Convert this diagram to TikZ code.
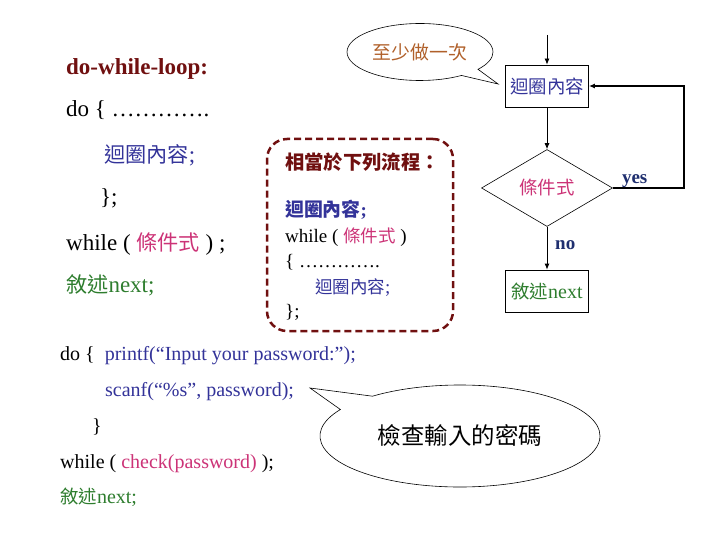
\documentclass[tikz,border=0pt]{standalone}
\usepackage{fontspec}
\setmainfont{Liberation Serif}
\newfontfamily\cjk[Scale=0.92]{Noto Sans CJK TC}
\usetikzlibrary{arrows.meta, positioning, calc, shapes.geometric, shapes.callouts}
\definecolor{LoopRed}{HTML}{701010}
\definecolor{BodyBlue}{HTML}{333399}
\definecolor{CondPink}{HTML}{CC3377}
\definecolor{NextGreen}{HTML}{2E7D2E}
\definecolor{LabelNavy}{HTML}{1F2F6F}
\definecolor{NoteBrown}{HTML}{B0602A}

\begin{document}
\begin{tikzpicture}[x=1pt, y=-1pt, >={Latex[length=6pt,width=5pt]},
  codebig/.style={anchor=base west, inner sep=0pt, font=\fontsize{23}{27}\selectfont},
  codemid/.style={anchor=base west, inner sep=0pt, font=\fontsize{19}{23}\selectfont},
  codelow/.style={anchor=base west, inner sep=0pt, font=\fontsize{20}{24}\selectfont},
  flowbox/.style={draw, line width=0.8pt, minimum width=83pt, minimum height=42pt,
    inner sep=0pt, font=\fontsize{20}{24}\selectfont},
  flowlabel/.style={anchor=base west, inner sep=0pt, text=LabelNavy,
    font=\fontsize{19}{22}\selectfont\bfseries},
  note/.style={ellipse callout, draw, line width=0.6pt, inner sep=0pt}]
  \useasboundingbox (0,0) rectangle (720,540);

  % left: do-while syntax
  \node[codebig] (title) at (66,75) {\textcolor{LoopRed}{\textbf{do-while-loop:}}};
  \node[codebig] (doline) at (66,117) {do \{ ………….};
  \node[codebig] (bodyline) at (104,163) {\color{BodyBlue}{\cjk 迴圈內容};};
  \node[codebig] (closeline) at (100,205) {\};};
  \node[codebig] (whileline) at (66,251) {while ( {\color{CondPink}\cjk 條件式} ) ;};
  \node[codebig] (nextline) at (66,292) {\color{NextGreen}{\cjk 敘述}next;};

  % equivalent flow, dashed frame
  \node[draw=LoopRed, line width=2.5pt, dash pattern=on 7pt off 4pt, rounded corners=20pt,
    minimum width=186pt, minimum height=192pt] (equivbox) at (360,235) {};
  \node[codemid] (equivtitle) at (285,170) {\color{LoopRed}\fontsize{21}{24}\selectfont\cjk\bfseries 相當於下列流程：};
  \node[codemid] (equivbody) at (285,217) {\color{BodyBlue}{\fontsize{20.5}{24}\selectfont\cjk\bfseries 迴圈內容}\textbf{;}};
  \node[codemid] (equivwhile) at (285,243) {while ( {\color{CondPink}\cjk 條件式} )};
  \node[codemid] (equivopen) at (285,267) {\{ ………….};
  \node[codemid] (equivinner) at (315,293) {\color{BodyBlue}{\cjk 迴圈內容};};
  \node[codemid] (equivclose) at (285,317) {\};};

  % flowchart
  \coordinate (entry) at (547,35);
  \node[flowbox] (loopbox) at (547,86) {\color{BodyBlue}\cjk 迴圈內容};
  \node[diamond, draw, line width=0.6pt, aspect=1.7, minimum width=131pt, minimum height=77pt,
    inner sep=0pt, font=\fontsize{20}{24}\selectfont] (cond) at (547,188) {\color{CondPink}\cjk 條件式};
  \node[flowbox] (nextbox) at (547,291) {\color{NextGreen}{\cjk 敘述}next};
  \draw[->, line width=0.8pt] (entry) -- (loopbox);
  \draw[->, line width=0.8pt] (loopbox) -- (cond);
  \draw[->, line width=0.8pt] (cond) -- (nextbox);
  \draw[->, line width=2.5pt] (cond.east) -- ++(71,0) |- (loopbox.east);
  \node[flowlabel] (yeslbl) at ($(cond.east)+(9,-4)$) {yes};
  \node[flowlabel] (nolbl) at ($(cond.south)+(8,23)$) {no};

  % callouts
  \node[note, minimum width=146pt, minimum height=57pt, callout pointer arc=18,
    callout absolute pointer={($(loopbox.west)+(-7,-2)$)},
    font=\fontsize{20.5}{24}\selectfont] (oncenote) at (420,52) {\color{NoteBrown}\cjk 至少做一次};

  % bottom: password example
  \node[codelow] (doprint) at (60,360) {do \{\ \ \textcolor{BodyBlue}{printf(“Input your password:”);}};
  \node[codelow] (scanfline) at (105,396) {\textcolor{BodyBlue}{scanf(“\%s”, password);}};
  \node[codelow] (closelow) at (92,432) {\}};
  \node[codelow] (whilelow) at (60,468) {while ( \textcolor{CondPink}{check(password)} );};
  \node[codelow] (nextlow) at (60,503) {\color{NextGreen}{\cjk 敘述}next;};
  \coordinate (checktip) at (310,388);
  \node[note, minimum width=280pt, minimum height=102pt, callout pointer arc=20,
    callout absolute pointer={(checktip)},
    font=\fontsize{25.5}{30}\selectfont] (checknote) at (460,436) {\cjk 檢查輸入的密碼};
\end{tikzpicture}
\end{document}
